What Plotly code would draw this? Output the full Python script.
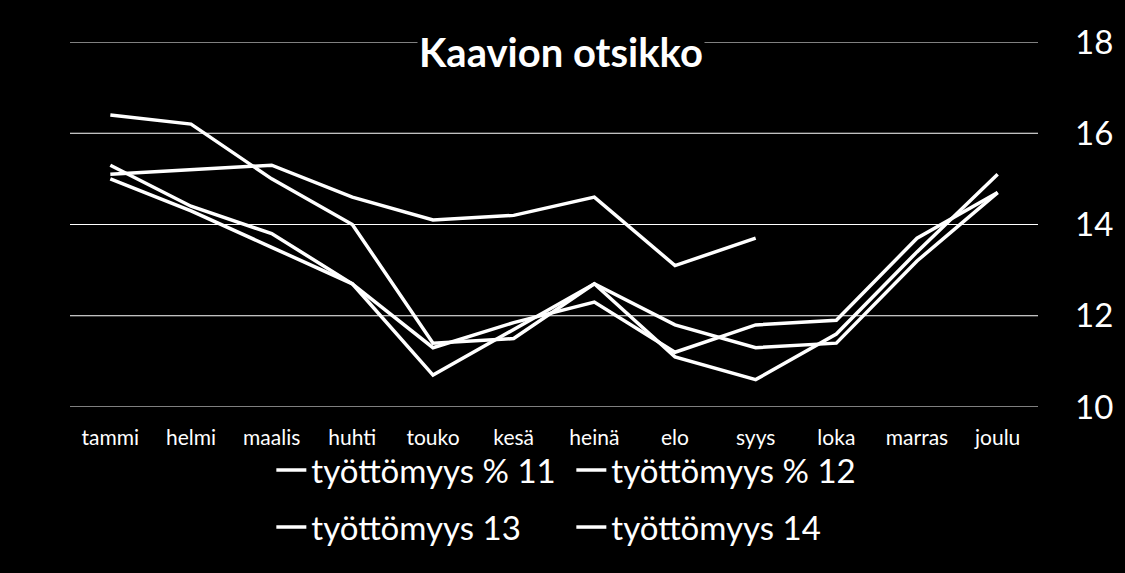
import plotly.graph_objects as go

months = ["tammi", "helmi", "maalis", "huhti", "touko", "kesä", "heinä",
          "elo", "syys", "loka", "marras", "joulu"]

s11 = [16.4, 16.2, 15.0, 14.0, 11.4, 11.5, 12.7, 11.8, 11.3, 11.4, 13.2, 14.7]
s12 = [15.3, 14.4, 13.8, 12.7, 11.3, 11.85, 12.3, 11.2, 11.8, 11.9, 13.7, 14.7]
s13 = [15.0, 14.3, 13.5, 12.7, 10.7, 11.7, 12.7, 11.1, 10.6, 11.6, 13.4, 15.1]
s14 = [15.1, 15.2, 15.3, 14.6, 14.1, 14.2, 14.6, 13.1, 13.7, None, None, None]

names = ["työttömyys % 11", "työttömyys % 12", "työttömyys 13", "työttömyys 14"]
series = [s11, s12, s13, s14]
legends = ["legend", "legend", "legend2", "legend2"]

y_ticks = [10, 12, 14, 16, 18]

FONT = "Lato"

fig = go.Figure()
for name, vals, lg in zip(names, series, legends):
    fig.add_trace(go.Scatter(
        x=months, y=vals, name=name, mode="lines",
        line=dict(color="white", width=3.5),
        legend=lg, connectgaps=False,
    ))

legend_common = dict(
    orientation="h", xanchor="left", yanchor="middle",
    font=dict(family=FONT, size=33, color="white"),
    bgcolor="rgba(0,0,0,0)", entrywidth=255, entrywidthmode="pixels",
    itemwidth=30, tracegroupgap=0,
)

# horizontal grid lines at every y tick (including the range ends)
grid_shapes = [dict(type="line", xref="paper", yref="y", x0=0, x1=1, y0=v, y1=v,
                    line=dict(color="white", width=1), layer="below")
               for v in y_ticks]

fig.update_layout(
    width=1125, height=573,
    paper_bgcolor="black", plot_bgcolor="black",
    margin=dict(l=70, r=85, t=42, b=166),
    font=dict(family=FONT, color="white"),
    showlegend=True,
    legend=dict(x=0.208, y=-0.1726, **legend_common),
    legend2=dict(x=0.208, y=-0.329, **legend_common),
    xaxis=dict(
        type="category", showgrid=False, zeroline=False, showline=False,
        tickfont=dict(family=FONT, size=21, color="white"),
        ticks="", ticklabelstandoff=16, range=[-0.5, 11.5],
    ),
    yaxis=dict(
        side="right", range=[10, 18], tickvals=y_ticks,
        showgrid=False, zeroline=False, showline=False, ticks="",
        tickfont=dict(family=FONT, size=33, color="white"),
        ticklabelstandoff=36,
    ),
    shapes=grid_shapes,
    annotations=[dict(
        text="<b>Kaavion otsikko</b>", xref="paper", yref="paper",
        x=(562 - 70) / 970, y=(407 - 52) / 365, xanchor="center", yanchor="middle",
        showarrow=False, bgcolor="black",
        font=dict(family=FONT, size=40, color="white"),
    )],
)

fig.write_html("out.html", config={"displayModeBar": False},
               post_script="document.body.style.margin='0';")
